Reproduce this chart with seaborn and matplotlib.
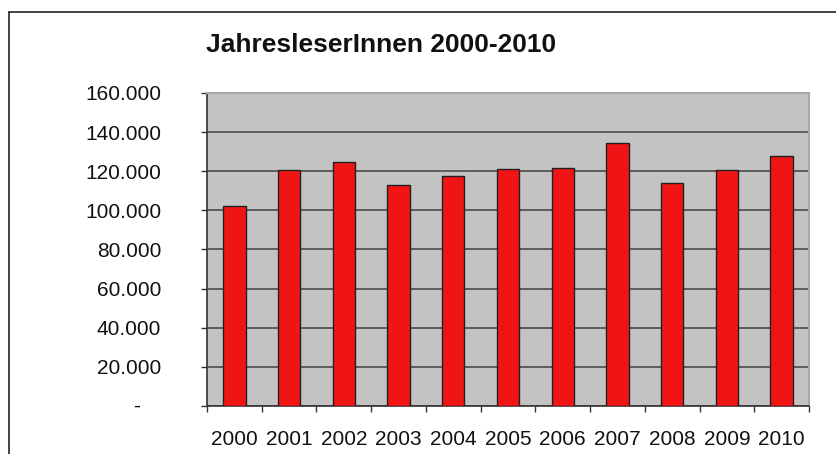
import matplotlib
matplotlib.use("Agg")
import matplotlib.pyplot as plt
import seaborn as sns
import pandas as pd
from matplotlib.lines import Line2D
from matplotlib.ticker import FixedLocator

# Data
years = ["2000", "2001", "2002", "2003", "2004", "2005", "2006", "2007", "2008", "2009", "2010"]
readers = [102000, 120500, 124500, 113000, 117700, 121000, 121800, 134600, 113800, 120600, 127800]
yticks = [0, 20000, 40000, 60000, 80000, 100000, 120000, 140000, 160000]
ytick_labels = ["-", "20.000", "40.000", "60.000", "80.000", "100.000", "120.000", "140.000", "160.000"]
title = "JahresleserInnen 2000-2010"

df = pd.DataFrame({"Jahr": years, "LeserInnen": readers})

sns.set_theme(style="white")
plt.rcParams["font.family"] = ["Liberation Sans", "DejaVu Sans"]

fig = plt.figure(figsize=(8.36, 4.54), dpi=100)
ax = fig.add_axes([207 / 836, 1 - 406 / 454, (809 - 207) / 836, (406 - 93) / 454])
ax.set_facecolor("#c3c3c3")

sns.barplot(data=df, x="Jahr", y="LeserInnen", color="#f01414", width=0.41,
            saturation=1, edgecolor="#202020", linewidth=1.0, ax=ax, zorder=3)

ax.set_ylim(0, 160000)
ax.set_xlim(-0.5, len(years) - 0.5)
ax.set_yticks(yticks)
ax.set_yticklabels([""] + ytick_labels[1:])
ax.yaxis.grid(True, color="#555555", linewidth=1.3, zorder=1)
ax.xaxis.grid(False)
ax.set_axisbelow(True)

ax.set_xlabel("")
ax.set_ylabel("")

# x ticks: labels at centres, tick marks at category boundaries
ax.xaxis.set_minor_locator(FixedLocator([i - 0.5 for i in range(len(years) + 1)]))
ax.tick_params(axis="x", which="major", length=0, pad=17, labelsize=15, labelcolor="#111111")
ax.tick_params(axis="x", which="minor", bottom=True, length=4.5, width=1.0, color="#333333")
ax.tick_params(axis="y", which="major", left=True, length=4, width=1.0, color="#333333",
               pad=29, labelsize=15, labelcolor="#111111")

for side in ["top", "right"]:
    ax.spines[side].set_color("#a8a8a8")
    ax.spines[side].set_linewidth(1.5)
ax.spines["left"].set_color("#333333")
ax.spines["left"].set_linewidth(1.2)
ax.spines["bottom"].set_color("#333333")
ax.spines["bottom"].set_linewidth(1.2)

# zero label "-" as in accounting format
ax.annotate(ytick_labels[0], xy=(0, yticks[0]), xycoords=ax.get_yaxis_transform(),
            xytext=(-70, 0), textcoords="offset pixels", ha="center", va="center",
            fontsize=15, color="#111111", annotation_clip=False)

fig.text(206 / 836, 1 - 45 / 454, title, ha="left", va="center",
         fontsize=19, fontweight="bold", color="#111111")

# outer frame (top and left, running off the image)
fig.add_artist(Line2D([9 / 836, 9 / 836], [0, 1 - 12 / 454], transform=fig.transFigure,
                      color="#222222", linewidth=1.2))
fig.add_artist(Line2D([9 / 836, 1], [1 - 12 / 454, 1 - 12 / 454], transform=fig.transFigure,
                      color="#222222", linewidth=1.2))

fig.savefig("out.png", dpi=100, facecolor="white")
